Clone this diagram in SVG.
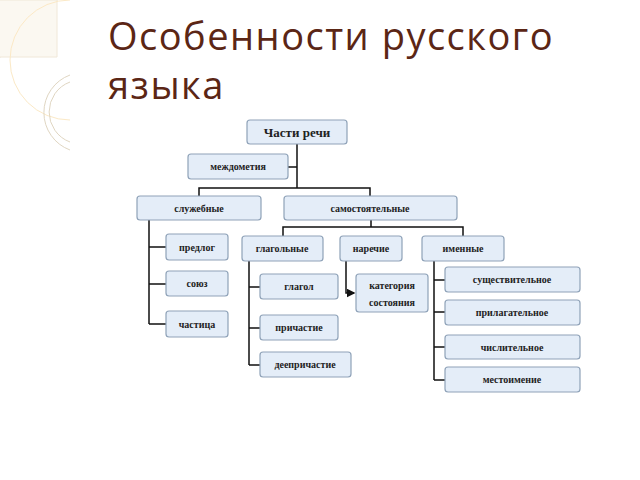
<svg xmlns="http://www.w3.org/2000/svg" width="640" height="480" viewBox="0 0 640 480">
<style>
.b rect{fill:#e4edf8;stroke:#8fa2b8;stroke-width:1.2}
.b text{font-family:"Liberation Serif",serif;font-weight:bold;font-size:10px;fill:#222;text-anchor:middle}
.c{stroke:#111;stroke-width:1.5;fill:none}
.t{font-family:"Open Sans","Noto Sans",sans-serif;font-size:38px;letter-spacing:1.5px;fill:#5b2615}
</style>
<defs><marker id="a" markerWidth="6" markerHeight="6" refX="5" refY="3" orient="auto"><path d="M0,0L6,3L0,6z" fill="#111"/></marker></defs>
<rect width="640" height="480" fill="#fff"/>
<g fill="none" stroke-width="1">
<path d="M0,57 Q45,45 57,0" stroke="#e8dcc6"/><path d="M0,0H57V57H0" stroke="#f0e8d8" fill="#fbf8f1"/>
<path d="M70,0 A60,60 0 0 0 70,120" stroke="#fbe9c6"/>
<path d="M70,75 A40,40 0 0 0 70,150" stroke="#e0d6c2"/><path d="M70,82 A32,32 0 0 0 70,142" stroke="#e0d6c2"/>
</g>
<text class="t" x="108" y="50">Особенности русского</text>
<text class="t" x="108" y="99">языка</text>
<g class="c">
<path d="M297,144V188M288,167H297M199,196V188H370V196"/>
<path d="M149,220V324M149,247H166M149,284H166M149,324H166"/>
<path d="M371,220V227M283,236V227H463V236"/>
<path d="M249,261V365M249,287H260M249,328H260M249,365H260"/>
<path d="M346,261V293H354" marker-end="url(#a)"/>
<path d="M434,261V380M434,280H445M434,312H445M434,347H445M434,380H445"/>
</g>
<g class="b">
<g id="n1"><rect x="247" y="120" width="100" height="24" rx="3"/><text x="297" y="137" style="font-size:13px">Части речи</text></g>
<g id="n2"><rect x="188" y="154" width="100" height="25" rx="3"/><text x="238" y="170">междометия</text></g>
<g id="n3"><rect x="137" y="196" width="124" height="24" rx="3"/><text x="199" y="212">служебные</text></g>
<g id="n4"><rect x="284" y="196" width="173" height="24" rx="3"/><text x="370" y="212">самостоятельные</text></g>
<g id="n5"><rect x="166" y="234" width="62" height="26" rx="3"/><text x="197" y="251">предлог</text></g>
<g id="n6"><rect x="166" y="271" width="62" height="25" rx="3"/><text x="197" y="287">союз</text></g>
<g id="n7"><rect x="166" y="311" width="62" height="26" rx="3"/><text x="197" y="328">частица</text></g>
<g id="n8"><rect x="242" y="236" width="81" height="25" rx="3"/><text x="282" y="252">глагольные</text></g>
<g id="n9"><rect x="340" y="236" width="62" height="25" rx="3"/><text x="371" y="252">наречие</text></g>
<g id="n10"><rect x="422" y="236" width="82" height="25" rx="3"/><text x="463" y="252">именные</text></g>
<g id="n11"><rect x="260" y="274" width="78" height="25" rx="3"/><text x="299" y="290">глагол</text></g>
<g id="n12"><rect x="260" y="315" width="78" height="25" rx="3"/><text x="299" y="331">причастие</text></g>
<g id="n13"><rect x="260" y="352" width="91" height="25" rx="3"/><text x="305" y="368">деепричастие</text></g>
<g id="n14"><rect x="356" y="274" width="72" height="38" rx="3"/><text x="392" y="289">категория</text><text x="392" y="306">состояния</text></g>
<g id="n15"><rect x="445" y="267" width="135" height="25" rx="3"/><text x="512" y="283">существительное</text></g>
<g id="n16"><rect x="445" y="300" width="135" height="25" rx="3"/><text x="512" y="316">прилагательное</text></g>
<g id="n17"><rect x="445" y="335" width="135" height="24" rx="3"/><text x="512" y="351">числительное</text></g>
<g id="n18"><rect x="445" y="367" width="135" height="25" rx="3"/><text x="512" y="383">местоимение</text></g>
</g>
</svg>
